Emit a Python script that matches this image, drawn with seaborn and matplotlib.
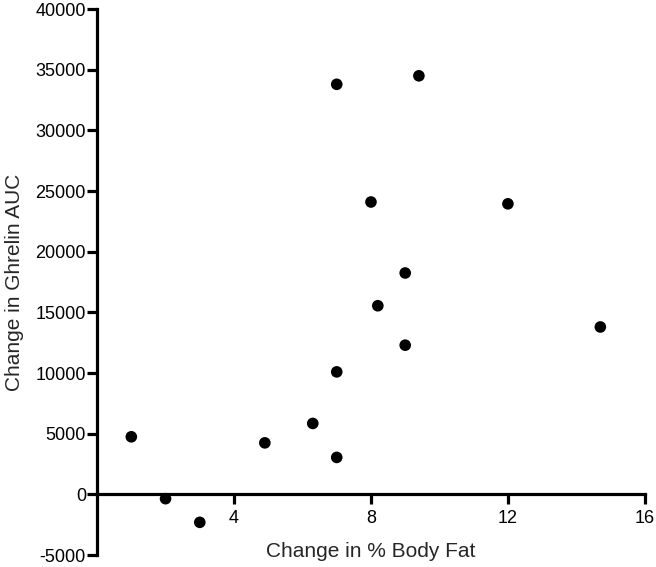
import numpy as np
import pandas as pd
import seaborn as sns
import matplotlib.pyplot as plt

# values
body_fat_change = [7.0, 9.4, 8.0, 12.0, 9.0, 8.2, 14.7, 9.0, 7.0, 6.3, 1.0, 4.9, 7.0, 2.0, 3.0]
ghrelin_auc_change = [33800, 34500, 24100, 23950, 18250, 15550, 13800, 12300, 10100, 5850, 4750, 4250, 3050, -350, -2300]

x_ticks = [4, 8, 12, 16]
y_ticks = list(range(-5000, 40001, 5000))

df = pd.DataFrame({'Change in % Body Fat': body_fat_change,
                   'Change in Ghrelin AUC': ghrelin_auc_change})

sns.set_style('ticks')
plt.rcParams['font.family'] = ['Liberation Sans', 'DejaVu Sans']
plt.rcParams['axes.unicode_minus'] = False

fig = plt.figure(figsize=(6.56, 5.67), dpi=100)
ax = fig.add_axes([0.148, 0.021, 0.835, 0.963])

sns.scatterplot(data=df, x='Change in % Body Fat', y='Change in Ghrelin AUC',
                color='black', s=70, edgecolor='none', ax=ax, clip_on=False, zorder=3)

ax.set_xlim(0, 16)
ax.set_ylim(-5000, 40000)
ax.set_xticks(x_ticks)
ax.set_yticks(y_ticks)

# axes cross at zero like the original
ax.spines['left'].set_position(('data', 0))
ax.spines['bottom'].set_position(('data', 0))
ax.spines['top'].set_visible(False)
ax.spines['right'].set_visible(False)
for side in ['left', 'bottom']:
    ax.spines[side].set_linewidth(2.3)
    ax.spines[side].set_color('black')

ax.tick_params(axis='both', width=2.3, length=7, color='black', labelsize=13, labelcolor='black')
ax.tick_params(axis='y', pad=1)
ax.tick_params(axis='x', pad=4)

ax.set_xlabel('Change in % Body Fat', fontsize=15)
ax.set_ylabel('Change in Ghrelin AUC', fontsize=15)
ax.xaxis.set_label_coords(0.5, 0.007)
ax.xaxis.label.set_verticalalignment('center')
ax.yaxis.set_label_coords(-0.151, 0.5)
ax.yaxis.label.set_verticalalignment('center')

fig.savefig('out.png', dpi=100)
